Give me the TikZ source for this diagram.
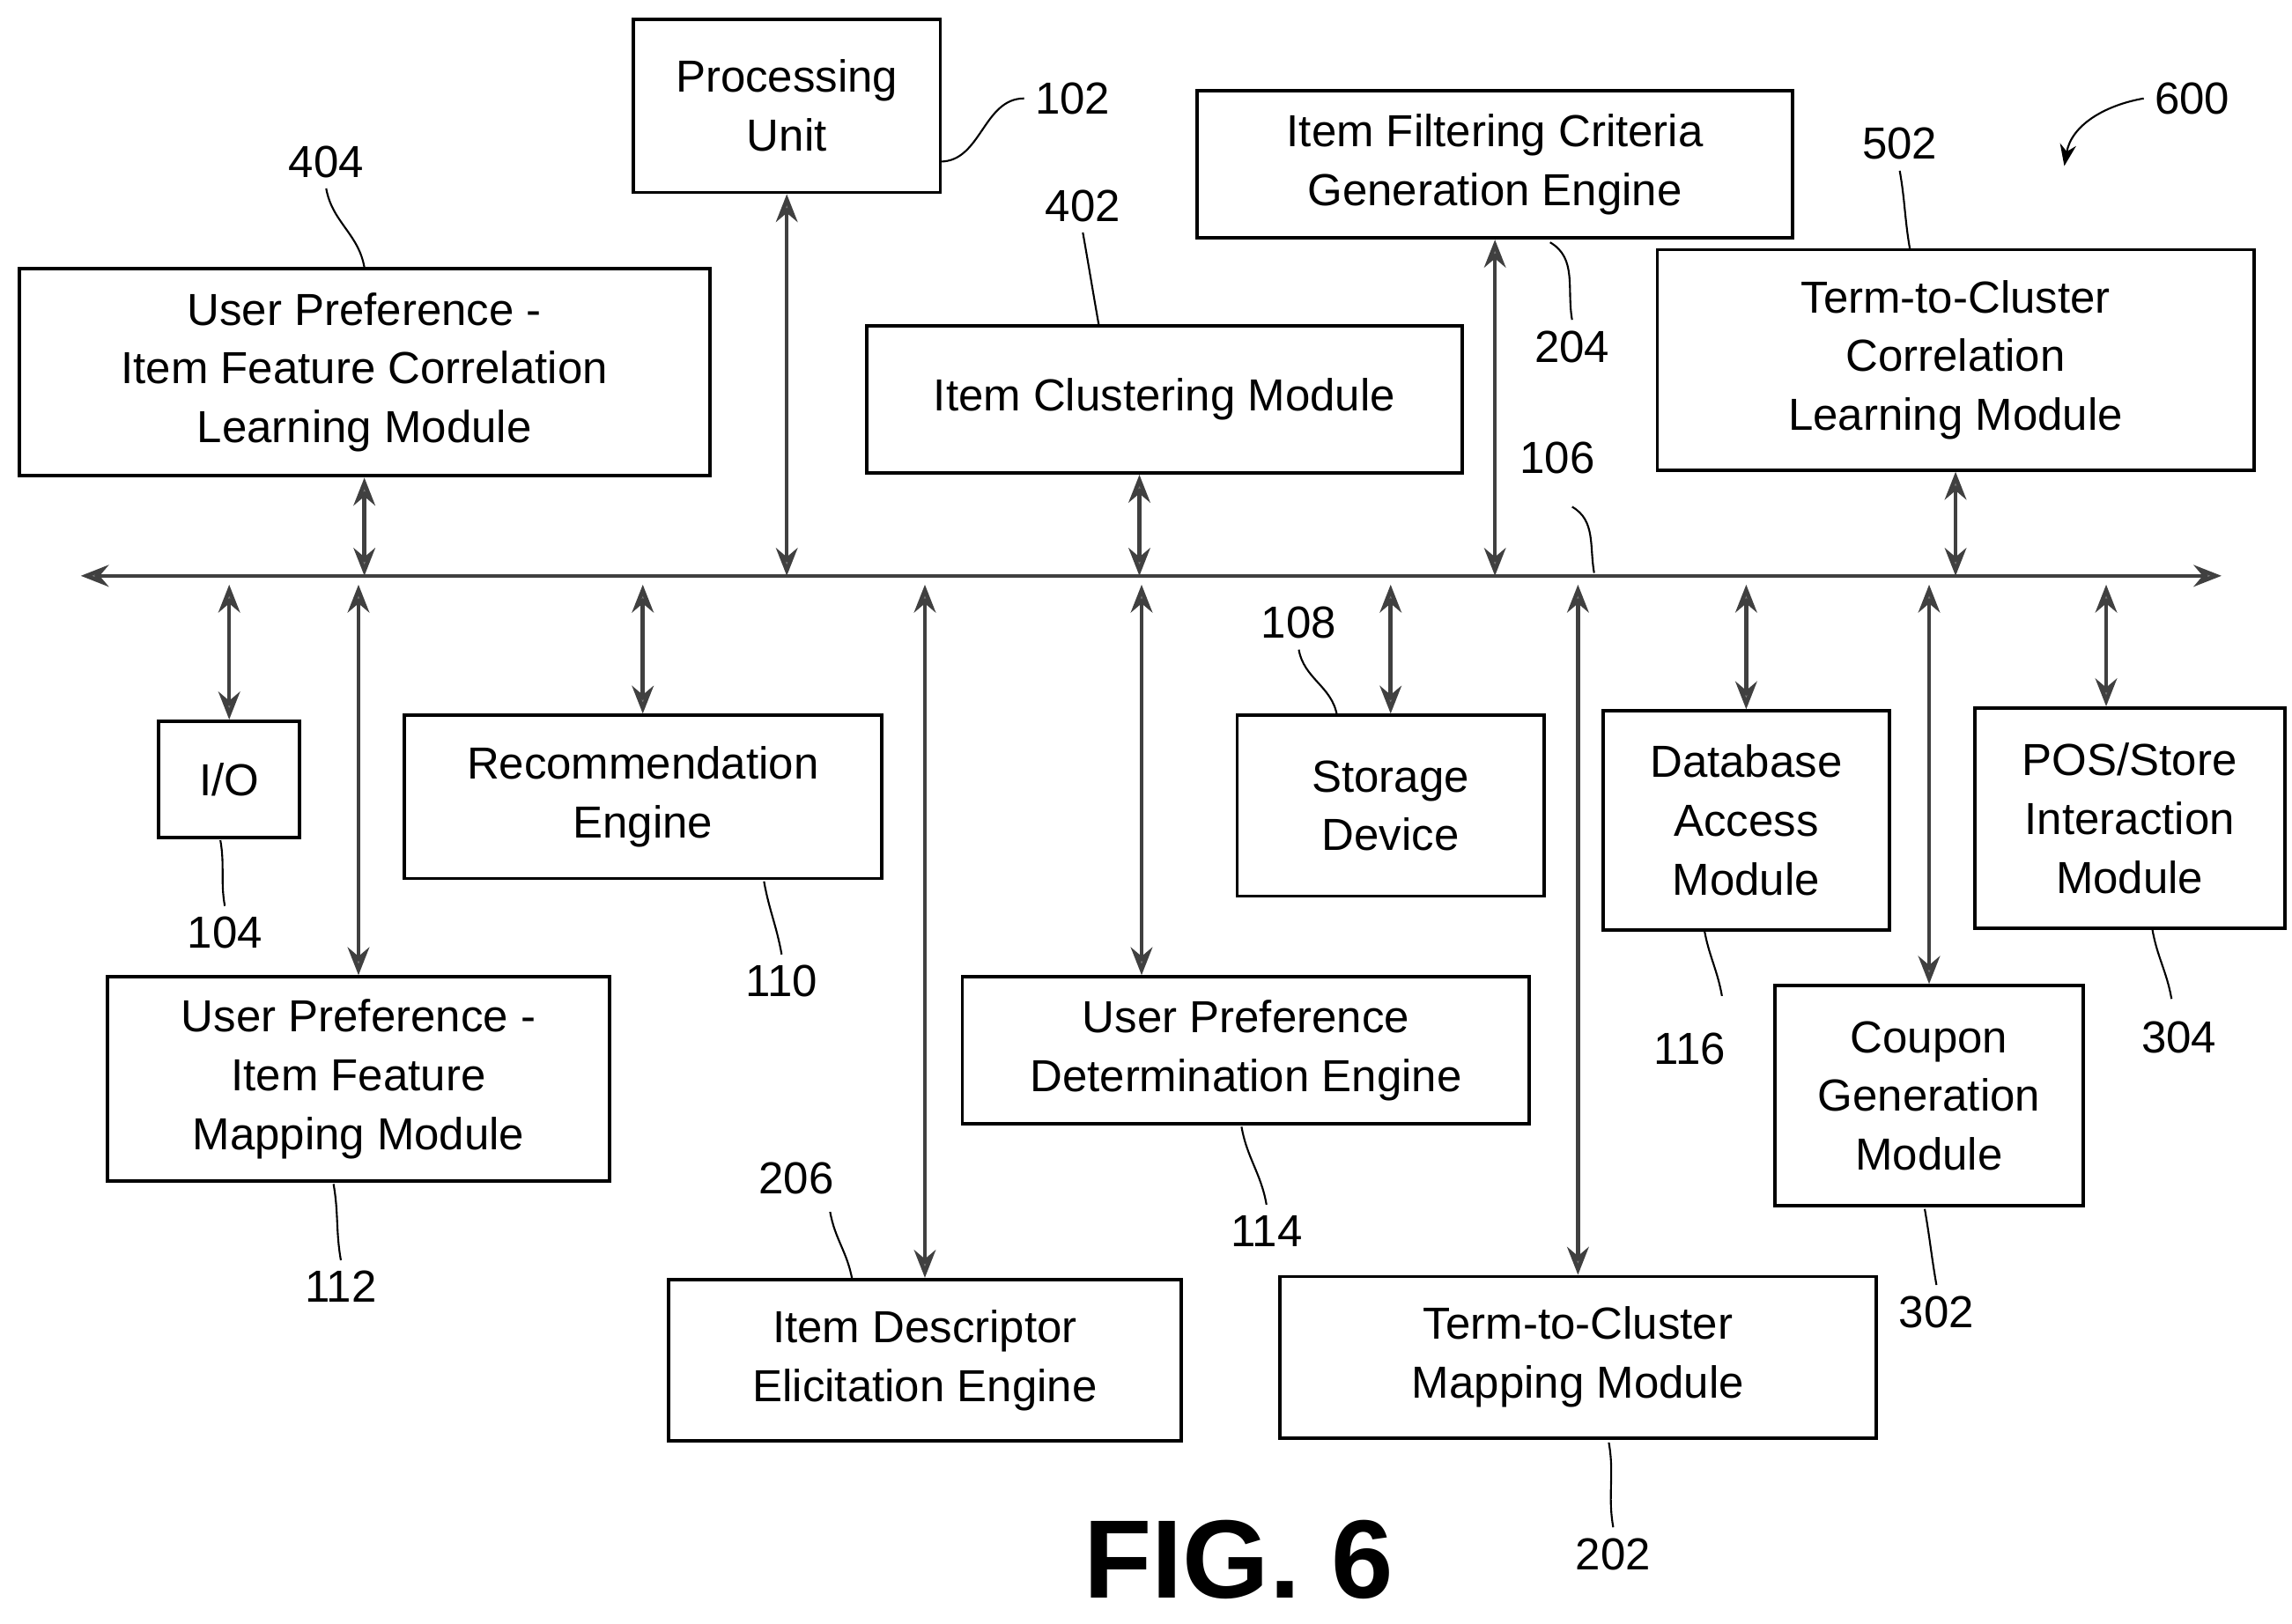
\documentclass[tikz,border=0pt]{standalone}
\usepackage{fontspec}
\setmainfont{Liberation Sans}
\usetikzlibrary{arrows.meta,calc}
\tikzset{
  box/.style={draw,line width=1.1pt,align=center,inner sep=0pt,font=\fontsize{14.5}{19}\selectfont},
  lbl/.style={font=\fontsize{14.5}{17}\selectfont},
  link/.style={line width=1.3pt,draw=black!75,{Stealth[fill=gray,length=9pt,width=7pt]}-{Stealth[fill=gray,length=9pt,width=7pt]}},
  lead/.style={line width=0.6pt}
}
\newcommand{\blk}[6]{\node[box,minimum width={(#4-#2)*0.01668cm},minimum height={(#5-#3)*0.01668cm}] (#1) at ({(#2+#4)/2},{(#3+#5)/2}) {#6};}
\begin{document}
\begin{tikzpicture}[x=0.01668cm,y=-0.01668cm]
\useasboundingbox (0,0) rectangle (1560,1105);
% upper boxes
\blk{pu}{431}{13}{640}{131}{Processing\\Unit}
\blk{fc}{815}{62}{1220}{162}{Item Filtering Criteria\\Generation Engine}
\blk{tcc}{1128}{170}{1534}{320}{Term-to-Cluster\\Correlation\\Learning Module}
\blk{upc}{13}{183}{483}{324}{User Preference -\\Item Feature Correlation\\Learning Module}
\blk{cl}{590}{222}{995}{322}{Item Clustering Module}
% lower boxes
\blk{io}{108}{491}{204}{570}{I/O}
\blk{re}{275}{487}{600}{598}{Recommendation\\Engine}
\blk{sd}{842}{487}{1051}{610}{Storage\\Device}
\blk{db}{1091}{484}{1286}{633}{Database\\Access\\Module}
\blk{pos}{1344}{482}{1555}{632}{POS/Store\\Interaction\\Module}
\blk{upm}{73}{665}{415}{804}{User Preference -\\Item Feature\\Mapping Module}
\blk{upd}{655}{665}{1041}{765}{User Preference\\Determination Engine}
\blk{cg}{1208}{671}{1418}{821}{Coupon\\Generation\\Module}
\blk{de}{455}{871}{804}{981}{Item Descriptor\\Elicitation Engine}
\blk{tcm}{871}{869}{1277}{979}{Term-to-Cluster\\Mapping Module}
% bus
\coordinate (busL) at (55,392);
\coordinate (busR) at (1512,392);
\coordinate (busD) at (0,398);
\draw[link] (busL) -- (busR);
% connectors
\draw[link] (pu.south) -- (pu.south |- busL);
\draw[link] (fc.south) -- (fc.south |- busL);
\draw[link] (tcc.south) -- (tcc.south |- busL);
\draw[link] (upc.south) -- (upc.south |- busL);
\draw[link] ($(cl.south)+(-17,0)$) -- ($(cl.south |- busL)+(-17,0)$);
\draw[link] (io.north |- busD) -- (io.north);
\draw[link] (re.north |- busD) -- (re.north);
\draw[link] (sd.north |- busD) -- (sd.north);
\draw[link] (db.north |- busD) -- (db.north);
\draw[link] ($(pos.north |- busD)+(-16,0)$) -- ($(pos.north)+(-16,0)$);
\draw[link] (upm.north |- busD) -- (upm.north);
\draw[link] ($(upd.north |- busD)+(-71,0)$) -- ($(upd.north)+(-71,0)$);
\draw[link] (cg.north |- busD) -- (cg.north);
\draw[link] (de.north |- busD) -- (de.north);
\draw[link] (tcm.north |- busD) -- (tcm.north);
% reference numerals
\node[lbl] (n102) at (730,67) {102};
\draw[lead] (640,110) to[out=0,in=180] (n102.west);
\node[lbl] (n600) at (1492,67) {600};
\draw[lead,-{Stealth[length=7pt]}] (n600.west) to[out=190,in=80] (1405,113);
\node[lbl] (n204) at (1070,236) {204};
\draw[lead] (1055,165) to[out=-30,in=100] (n204.north);
\node[lbl] (n502) at (1293,98) {502};
\draw[lead] (n502.south) to[out=-80,in=100] (1300,170);
\node[lbl] (n404) at (222,110) {404};
\draw[lead] (n404.south) to[out=-80,in=100] (248,182);
\node[lbl] (n402) at (737,140) {402};
\draw[lead] (n402.south) to[out=-80,in=100] (748,222);
\node[lbl] (n106) at (1060,312) {106};
\draw[lead] (1070,345) to[out=-30,in=100] (1085,390);
\node[lbl] (n104) at (153,635) {104};
\draw[lead] (150,572) to[out=-80,in=100] (n104.north);
\node[lbl] (n110) at (532,668) {110};
\draw[lead] (520,600) to[out=-80,in=100] (n110.north);
\node[lbl] (n108) at (884,424) {108};
\draw[lead] (n108.south) to[out=-80,in=100] (910,487);
\node[lbl] (n116) at (1150,714) {116};
\draw[lead] (1160,633) to[out=-80,in=100] (1172,678);
\node[lbl] (n304) at (1483,706) {304};
\draw[lead] (1465,633) to[out=-80,in=100] (1478,680);
\node[lbl] (n112) at (232,876) {112};
\draw[lead] (227,806) to[out=-80,in=100] (n112.north);
\node[lbl] (n114) at (862,838) {114};
\draw[lead] (845,767) to[out=-80,in=100] (n114.north);
\node[lbl] (n302) at (1318,893) {302};
\draw[lead] (1310,823) to[out=-80,in=100] (n302.north);
\node[lbl] (n206) at (542,802) {206};
\draw[lead] (565,825) to[out=-80,in=100] (580,871);
\node[lbl] (n202) at (1098,1058) {202};
\draw[lead] (1095,982) to[out=-80,in=100] (n202.north);
\node[font=\fontsize{36}{36}\selectfont\bfseries] (fig) at (843,1062) {FIG. 6};
\end{tikzpicture}
\end{document}
